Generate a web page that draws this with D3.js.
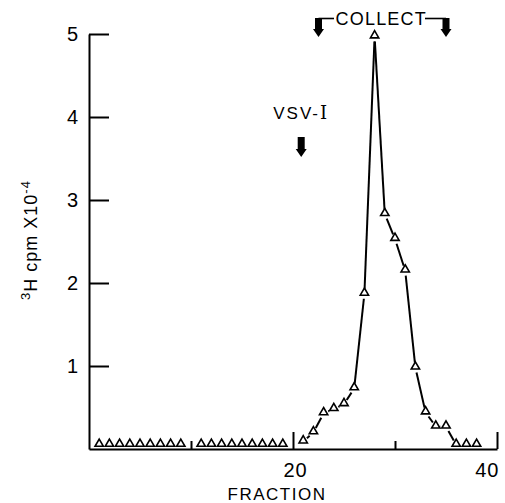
<!DOCTYPE html>
<html>
<head>
<meta charset="utf-8">
<script src="https://cdn.jsdelivr.net/npm/d3@7"></script>
<style>
  html, body { margin: 0; padding: 0; background: #fff; }
  svg { display: block; }
  text { font-family: "Liberation Sans", "DejaVu Sans", sans-serif; fill: #000; }
</style>
</head>
<body>
<svg id="chart" width="505" height="503"></svg>
<script>
// ---- Data ----
const fractions = [1,2,3,4,5,6,7,8,9,11,12,13,14,15,16,17,18,19,
                   21,22,23,24,25,26,27,28,29,30,31,32,33,34,35,36,37,38];
const cpm = [0.05,0.05,0.05,0.05,0.05,0.05,0.05,0.05,0.05,0.05,0.05,0.05,0.05,0.05,0.05,0.05,0.05,0.05,
             0.09,0.20,0.43,0.48,0.54,0.73,1.87,4.97,2.83,2.53,2.15,0.98,0.44,0.27,0.27,0.05,0.05,0.05];
const connectedRange = [21, 36];
const yTicks = [1,2,3,4,5];
const xTicks = [10,20,30,40];
const xLabelled = [20,40];
const collectRange = [22.5, 35];
const vsvFraction = 21;

const svg = d3.select("#chart");
const x = d3.scaleLinear().domain([0, 40]).range([89, 497]);
const y = d3.scaleLinear().domain([0, 5]).range([449, 34]);

// Y axis
const yAxis = d3.axisLeft(y).tickValues(yTicks).tickFormat(d3.format("d"))
  .tickSizeInner(-20).tickSizeOuter(0).tickPadding(11);
const gy = svg.append("g").attr("transform", `translate(${x(0)},0)`).call(yAxis);
gy.select(".domain").attr("stroke-width", 2);
gy.selectAll(".tick line").attr("stroke-width", 2);
gy.selectAll(".tick text").attr("font-size", 20).attr("font-family", "Liberation Sans, sans-serif");

// X axis
const xAxis = d3.axisBottom(x).tickValues(xTicks)
  .tickFormat(d => xLabelled.includes(d) ? d : "")
  .tickSizeInner(-17).tickSizeOuter(0).tickPadding(14);
const gx = svg.append("g").attr("transform", `translate(0,${y(0)})`).call(xAxis);
gx.select(".domain").attr("stroke-width", 2);
gx.selectAll(".tick line").attr("stroke-width", 2)
  .attr("y2", d => xLabelled.includes(d) ? -17 : -8);
gx.selectAll(".tick text").attr("font-size", 20).attr("font-family", "Liberation Sans, sans-serif")
  .attr("letter-spacing", 1)
  .attr("text-anchor", d => d === 40 ? "end" : "middle")
  .attr("dx", 2);

// Axis titles
svg.append("text").attr("x", 277).attr("y", 500)
  .attr("text-anchor", "middle").attr("font-size", 17).attr("letter-spacing", 1.5)
  .text("FRACTION");

const yt = svg.append("text")
  .attr("transform", "translate(37,240) rotate(-90)")
  .attr("text-anchor", "middle").attr("font-size", 18).attr("letter-spacing", 1);
yt.append("tspan").attr("font-size", 13).attr("baseline-shift", "super").text("3");
yt.append("tspan").text("H cpm X10");
yt.append("tspan").attr("font-size", 13).attr("baseline-shift", "super").text("-4");

// Connecting line segments with gaps at the markers
const pts = fractions.map((f, i) => ({f, v: cpm[i]}));
const conn = pts.filter(p => p.f >= connectedRange[0] && p.f <= connectedRange[1]);
const gap = 5;
const segs = d3.pairs(conn).map(([a, b]) => {
  const x1 = x(a.f), y1 = y(a.v), x2 = x(b.f), y2 = y(b.v);
  const L = Math.hypot(x2 - x1, y2 - y1);
  const ux = (x2 - x1) / L, uy = (y2 - y1) / L;
  return {x1: x1 + ux * gap, y1: y1 + uy * gap, x2: x2 - ux * gap, y2: y2 - uy * gap};
});
svg.append("g").selectAll("line").data(segs).join("line")
  .attr("x1", d => d.x1).attr("y1", d => d.y1)
  .attr("x2", d => d.x2).attr("y2", d => d.y2)
  .attr("stroke", "#000").attr("stroke-width", 2);

// Triangle markers
const tri = d3.symbol().type(d3.symbolTriangle).size(30);
svg.append("g").selectAll("path").data(pts).join("path")
  .attr("d", tri)
  .attr("transform", d => `translate(${x(d.f)},${y(d.v) - 1})`)
  .attr("fill", "#fff").attr("stroke", "#000").attr("stroke-width", 1.6);

// Down arrows
function arrow(cx, top, bottom) {
  const headH = 8, sw = 3.5, hw = 5.5;
  const p = `M${cx - sw},${top} L${cx + sw},${top} L${cx + sw},${bottom - headH} L${cx + hw},${bottom - headH} L${cx},${bottom} L${cx - hw},${bottom - headH} L${cx - sw},${bottom - headH} Z`;
  svg.append("path").attr("d", p).attr("fill", "#000");
}

// COLLECT bracket
const cx1 = x(collectRange[0]), cx2 = x(collectRange[1]);
svg.append("text").attr("x", (cx1 + cx2) / 2 - 1).attr("y", 25)
  .attr("text-anchor", "middle").attr("font-size", 18).attr("letter-spacing", 1.2).text("COLLECT");
svg.append("line").attr("x1", cx1).attr("y1", 18.5).attr("x2", 334).attr("y2", 18.5)
  .attr("stroke", "#000").attr("stroke-width", 1.6);
svg.append("line").attr("x1", 425).attr("y1", 18.5).attr("x2", cx2).attr("y2", 18.5)
  .attr("stroke", "#000").attr("stroke-width", 1.6);
arrow(cx1, 18, 37);
arrow(cx2, 18, 37);

// VSV-I marker
const vt = svg.append("text").attr("x", x(vsvFraction) - 2).attr("y", 119)
  .attr("text-anchor", "middle").attr("font-size", 17).attr("letter-spacing", 2);
vt.append("tspan").text("VSV-");
vt.append("tspan").attr("font-family", "DejaVu Serif, serif").attr("font-size", 18).text("I");
arrow(x(vsvFraction) - 2, 137, 157);
</script>
</body>
</html>
